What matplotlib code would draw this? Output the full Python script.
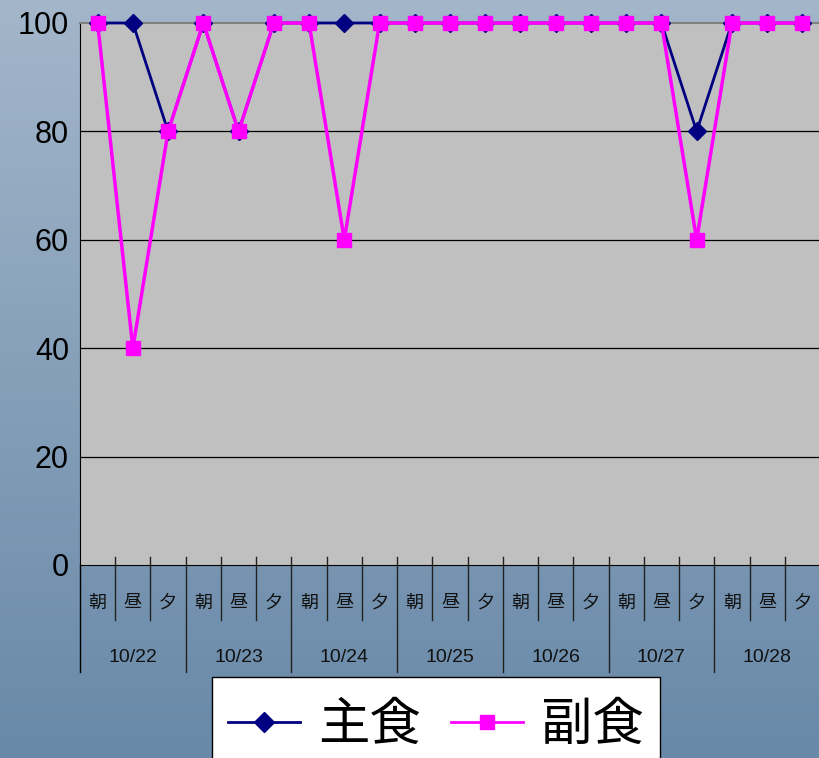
import matplotlib.pyplot as plt
import numpy as np
from matplotlib.lines import Line2D
from matplotlib.patches import Rectangle

plt.rcParams['font.family'] = ['Liberation Sans', 'Noto Sans CJK JP']

# data
dates = ['10/22', '10/23', '10/24', '10/25', '10/26', '10/27', '10/28']
meals = ['朝', '昼', '夕']
staple = [100, 100, 80, 100, 80, 100, 100, 100, 100, 100, 100, 100,
          100, 100, 100, 100, 100, 80, 100, 100, 100]
side = [100, 40, 80, 100, 80, 100, 100, 60, 100, 100, 100, 100,
        100, 100, 100, 100, 100, 60, 100, 100, 100]
series_names = ['主食', '副食']

W, H = 820, 758
fig = plt.figure(figsize=(W / 100, H / 100), dpi=100)

# gradient background
bg = fig.add_axes([0, 0, 1, 1], zorder=-10)
grad = np.linspace(0, 1, 256)[:, None]
top = np.array([163, 182, 202]) / 255
bot = np.array([104, 137, 168]) / 255
img = top[None, None, :] * (1 - grad[:, :, None]) + bot[None, None, :] * grad[:, :, None]
bg.imshow(img, aspect='auto', extent=[0, 1, 0, 1])
bg.axis('off')

ax = fig.add_axes([80 / W, (H - 565) / H, 740 / W, 542 / H])
ax.set_facecolor('#C0C0C0')
x = np.arange(len(staple))

ax.plot(x, staple, color='#000080', lw=2, marker='D', markersize=9,
        markerfacecolor='#000080', markeredgecolor='#000080', zorder=3, clip_on=False)
ax.plot(x, side, color='#FF00FF', lw=2.5, marker='s', markersize=10,
        markerfacecolor='#FF00FF', markeredgecolor='#FF00FF', zorder=4, clip_on=False)

ax.set_xlim(-0.5, len(x) - 0.5)
ax.set_ylim(0, 100)
ax.set_yticks([0, 20, 40, 60, 80, 100])
ax.tick_params(axis='y', labelsize=22, length=0, pad=8)
ax.set_xticks([])
for yv in [20, 40, 60, 80]:
    ax.axhline(yv, color='black', lw=0.9, zorder=1)

ax.spines['top'].set_color('#808080')
ax.spines['top'].set_linewidth(1.5)
ax.spines['right'].set_visible(False)
ax.spines['left'].set_color('black')
ax.spines['bottom'].set_color('black')

trans = ax.get_xaxis_transform()
short_y = -55 / 542
long_y = -107 / 542
up_y = 8 / 542
ax.plot([-0.5, -0.5], [0, long_y], transform=trans, color='black', lw=1, clip_on=False)
for i in range(len(x)):
    ax.text(i, -38 / 542, meals[i % 3], transform=trans, ha='center', va='center',
            fontsize=13, color='#111111')
    if i < len(x) - 1:
        b = i + 0.5
        yb = long_y if (i + 1) % 3 == 0 else short_y
        ax.plot([b, b], [up_y, yb], transform=trans, color='#222222', lw=1, clip_on=False)
for j, d in enumerate(dates):
    ax.text(j * 3 + 1, -92 / 542, d, transform=trans, ha='center', va='center',
            fontsize=14, color='#111111')

# legend box (runs off the bottom edge like the original)
fig.patches.append(Rectangle((212 / W, -0.02), 448 / W, (H - 677) / H + 0.02,
                             transform=fig.transFigure, facecolor='white',
                             edgecolor='black', lw=1, zorder=1))
handles = [
    Line2D([], [], color='#000080', lw=2, marker='D', markersize=10,
           markerfacecolor='#000080', markeredgecolor='#000080'),
    Line2D([], [], color='#FF00FF', lw=2, marker='s', markersize=10,
           markerfacecolor='#FF00FF', markeredgecolor='#FF00FF'),
]
leg = fig.legend(handles, series_names, loc='center', bbox_to_anchor=(436 / W, (H - 726) / H),
                 ncol=2, frameon=False, prop={'size': 37},
                 handlelength=1.4, handletextpad=0.35, columnspacing=0.6,
                 borderpad=0, borderaxespad=0)
leg.set_zorder(5)

fig.savefig('out.png', dpi=100)
